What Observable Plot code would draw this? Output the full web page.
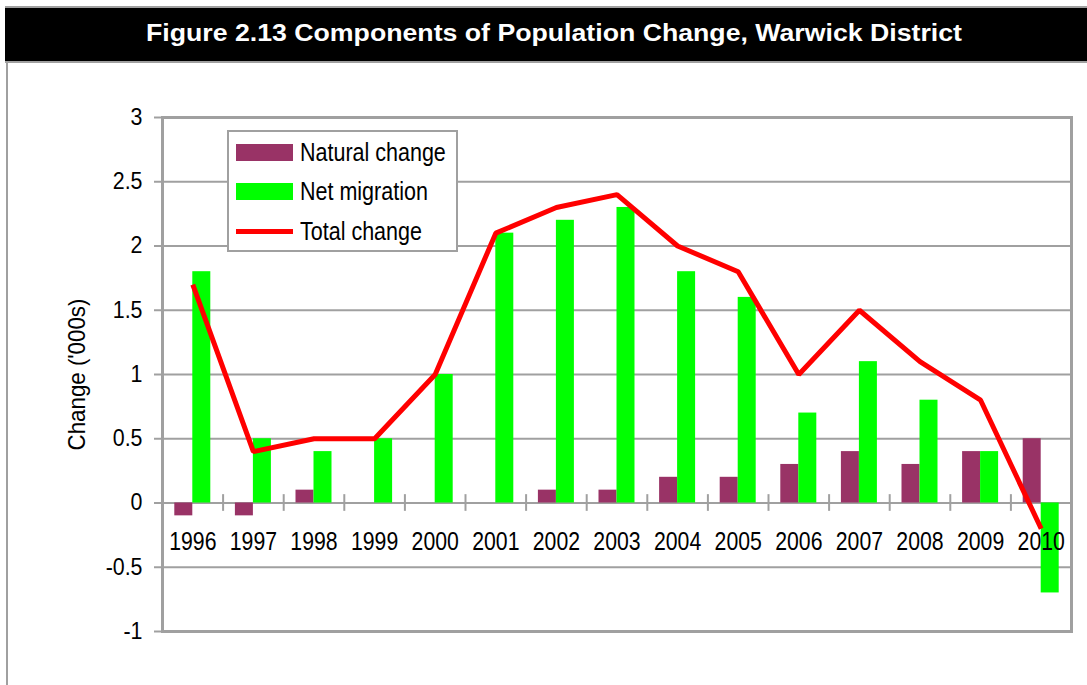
<!DOCTYPE html>
<html>
<head>
<meta charset="utf-8">
<script src="https://cdn.jsdelivr.net/npm/d3@7"></script>
<script src="https://cdn.jsdelivr.net/npm/@observablehq/plot@0.6"></script>
<style>
  html, body { margin: 0; padding: 0; background: #fff; }
  body { width: 1087px; height: 685px; overflow: hidden; position: relative;
         font-family: "Liberation Sans", Arial, sans-serif; }
  #head { padding-top: 6px; height: 63px; box-sizing: border-box; }
  #title { position: relative; margin-left: 5px; border-top: 2px solid #a0a0a0; border-bottom: 2px solid #a0a0a0;
           background: #000; color: #fff; height: 57px; box-sizing: border-box; }
  #title span { position: absolute; left: 141px; top: 10px; font-weight: bold; font-size: 23px;
                line-height: 30px; white-space: nowrap; transform-origin: 0 50%; }
  #leftline { position: absolute; left: 6px; top: 63px; width: 2px; height: 622px; background: #a0a0a0; z-index: 2; }
  #chart { position: relative; }
  #legend { position: absolute; left: 227px; top: 67px; width: 231px; height: 122px;
            box-sizing: border-box; border: 2px solid #a0a0a0; background: #fff; }
  .item { position: absolute; left: 7px; height: 40px; display: flex; align-items: center;
          font-size: 25px; color: #000; white-space: nowrap; }
  .item span { display: inline-block; transform-origin: 0 50%; }
  .sw { width: 57px; height: 17px; margin-right: 7px; flex: none; }
  .ln { width: 57px; height: 5px; margin-right: 7px; flex: none; }
</style>
</head>
<body>
<div id="head"><div id="title"><span id="titletext">Figure 2.13 Components of Population Change, Warwick District</span></div></div>
<div id="chart"></div>
<div id="leftline"></div>
<script>
const years = ["1996","1997","1998","1999","2000","2001","2002","2003","2004","2005","2006","2007","2008","2009","2010"];
const naturalChange = [-0.1, -0.1, 0.1, 0, 0, 0, 0.1, 0.1, 0.2, 0.2, 0.3, 0.4, 0.3, 0.4, 0.5];
const netMigration  = [1.8, 0.5, 0.4, 0.5, 1.0, 2.1, 2.2, 2.3, 1.8, 1.6, 0.7, 1.1, 0.8, 0.4, -0.7];
const totalChange   = [1.7, 0.4, 0.5, 0.5, 1.0, 2.1, 2.3, 2.4, 2.0, 1.8, 1.0, 1.5, 1.1, 0.8, -0.2];
const yTicks = [-1, -0.5, 0, 0.5, 1, 1.5, 2, 2.5, 3];
const seriesNames = ["Natural change", "Net migration", "Total change"];
const colors = {natural: "#993366", migration: "#00ff00", total: "#ff0000"};

const W = 1087, H = 622;
const mL = 162, mR = 16, mT = 54, mB = 54;
const bw = (W - mL - mR) / years.length;
const barW = 18;

const nat = years.map((y, i) => ({year: y, value: naturalChange[i]}));
const mig = years.map((y, i) => ({year: y, value: netMigration[i]}));
const tot = years.map((y, i) => ({year: y, value: totalChange[i]}));

const chart = Plot.plot({
  width: W, height: H,
  marginLeft: mL, marginRight: mR, marginTop: mT, marginBottom: mB,
  style: {fontFamily: '"Liberation Sans", Arial, sans-serif', background: "white", color: "#000"},
  x: {type: "band", domain: years, padding: 0, round: false, axis: null},
  y: {domain: [-1, 3], ticks: yTicks, label: null},
  marks: [
    Plot.gridY(yTicks, {stroke: "#a0a0a0", strokeOpacity: 1, strokeWidth: 2}),
    Plot.axisY(yTicks, {tickSize: 8, tickPadding: 12, stroke: "#a0a0a0", strokeWidth: 2,
      fontSize: 23, fill: "#000", tickFormat: d => String(d), label: null}),
    Plot.text(["Change ('000s)"], {frameAnchor: "left", dx: -85, rotate: -90, textAnchor: "middle",
      fontSize: 24, fill: "#000"}),
    Plot.barY(nat, {x: "year", y: "value", fill: colors.natural,
      insetLeft: bw / 2 - barW, insetRight: bw / 2}),
    Plot.barY(mig, {x: "year", y: "value", fill: colors.migration,
      insetLeft: bw / 2, insetRight: bw / 2 - barW}),
    Plot.ruleX(years.slice(1), {x: d => d, y1: -0.065, y2: 0.065, dx: -bw / 2,
      stroke: "#a0a0a0", strokeWidth: 2}),
    Plot.frame({stroke: "#a0a0a0", strokeWidth: 3}),
    Plot.text(years, {x: d => d, y: 0, dy: 39, fontSize: 25, fill: "#000"}),
    Plot.line(tot, {x: "year", y: "value", stroke: colors.total, strokeWidth: 5,
      strokeLinejoin: "miter", strokeLinecap: "butt"})
  ]
});
const host = document.getElementById("chart");
host.appendChild(chart);

// condense text horizontally to mimic the narrow typeface of the original
d3.select(chart).selectAll("text").each(function() {
  const s = this.textContent;
  let f = 0.93;
  if (/^\d{4}$/.test(s)) f = 0.85;
  const len = this.getComputedTextLength();
  this.setAttribute("textLength", (len * f).toFixed(2));
  this.setAttribute("lengthAdjust", "spacingAndGlyphs");
});

// title fitted to its width in the original
const tt = document.getElementById("titletext");
tt.style.transform = `scaleX(${(816 / tt.getBoundingClientRect().width).toFixed(4)})`;

const legend = document.createElement("div");
legend.id = "legend";
const kinds = ["sw", "sw", "ln"];
const swColors = [colors.natural, colors.migration, colors.total];
seriesNames.forEach((name, i) => {
  const it = document.createElement("div");
  it.className = "item";
  it.style.top = (0.5 + i * 39.3) + "px";
  const s = document.createElement("div");
  s.className = kinds[i];
  s.style.background = swColors[i];
  const t = document.createElement("span");
  t.textContent = name;
  it.appendChild(s); it.appendChild(t);
  legend.appendChild(it);
  t.style.transform = "scaleX(0.86)";
});
host.appendChild(legend);
</script>
</body>
</html>
